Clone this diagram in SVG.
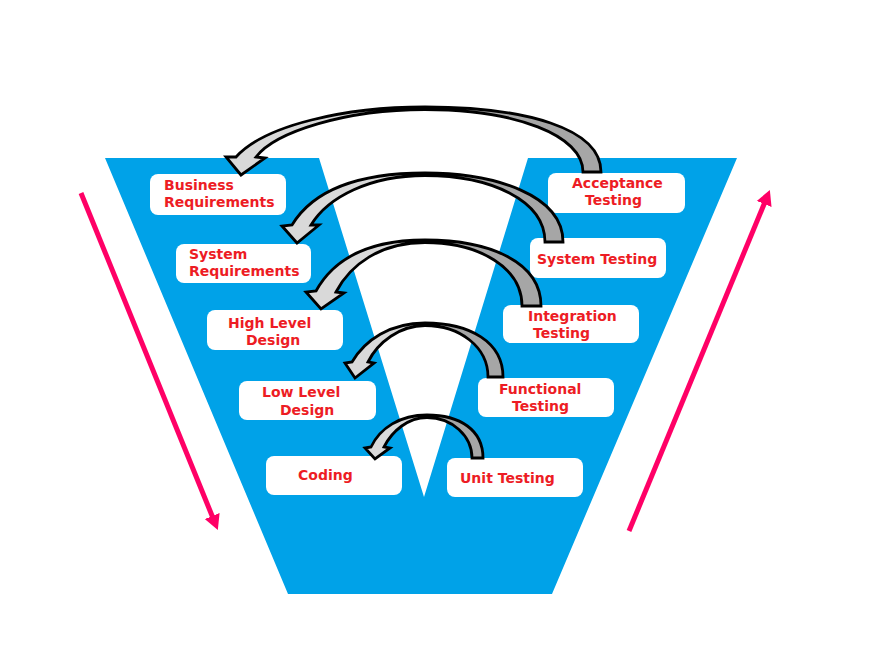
<svg xmlns="http://www.w3.org/2000/svg" width="891" height="655" viewBox="0 0 891 655">
<defs>
<style>
.box{fill:#ffffff;}
.lbl{font-family:"DejaVu Sans","Liberation Sans",sans-serif;font-weight:bold;font-size:14px;fill:#ED1C24;}
.carrow{fill:url(#grayfill);stroke:#000000;stroke-width:2.8;stroke-linejoin:miter;}
.pink{stroke:#FF0066;stroke-width:5;fill:none;marker-end:url(#pinkhead);}
</style>
<linearGradient id="grayfill" x1="0" y1="0" x2="1" y2="0">
<stop offset="0" stop-color="#D9D9D9"/>
<stop offset="0.5" stop-color="#D9D9D9"/>
<stop offset="0.5" stop-color="#A6A6A6"/>
<stop offset="1" stop-color="#A6A6A6"/>
</linearGradient>
<marker id="pinkhead" markerWidth="4" markerHeight="4" refX="1.5" refY="2" orient="auto" markerUnits="strokeWidth">
<path d="M0,0.4 L3,2 L0,3.6 Z" fill="#FF0066"/>
</marker>
</defs>
<rect width="891" height="655" fill="#ffffff"/>
<path id="vshape" d="M105,158 L319,158 L424,497 L528,158 L737,158 L552,594 L288,594 Z" fill="#00A2E8"/>

<g id="business-requirements">
<rect class="box" x="150" y="174" width="136" height="41" rx="8"/>
<text class="lbl" x="164" y="190">Business</text>
<text class="lbl" x="164" y="207">Requirements</text>
</g>
<g id="system-requirements">
<rect class="box" x="176" y="244" width="135" height="39" rx="8"/>
<text class="lbl" x="189" y="259">System</text>
<text class="lbl" x="189" y="276">Requirements</text>
</g>
<g id="high-level-design">
<rect class="box" x="207" y="310" width="136" height="40" rx="8"/>
<text class="lbl" x="228" y="328">High Level</text>
<text class="lbl" x="246" y="345">Design</text>
</g>
<g id="low-level-design">
<rect class="box" x="239" y="381" width="137" height="39" rx="8"/>
<text class="lbl" x="262" y="397">Low Level</text>
<text class="lbl" x="280" y="415">Design</text>
</g>
<g id="coding">
<rect class="box" x="266" y="456" width="136" height="39" rx="8"/>
<text class="lbl" x="298" y="480">Coding</text>
</g>
<g id="acceptance-testing">
<rect class="box" x="548" y="173" width="137" height="40" rx="8"/>
<text class="lbl" x="572" y="188">Acceptance</text>
<text class="lbl" x="585" y="205">Testing</text>
</g>
<g id="system-testing">
<rect class="box" x="530" y="238" width="136" height="40" rx="8"/>
<text class="lbl" x="537" y="264">System Testing</text>
</g>
<g id="integration-testing">
<rect class="box" x="503" y="305" width="136" height="38" rx="8"/>
<text class="lbl" x="528" y="321">Integration</text>
<text class="lbl" x="533" y="338">Testing</text>
</g>
<g id="functional-testing">
<rect class="box" x="478" y="378" width="136" height="39" rx="8"/>
<text class="lbl" x="499" y="394">Functional</text>
<text class="lbl" x="512" y="411">Testing</text>
</g>
<g id="unit-testing">
<rect class="box" x="447" y="458" width="136" height="39" rx="8"/>
<text class="lbl" x="460" y="483">Unit Testing</text>
</g>

<g id="connectors">
<path class="carrow" d="M601,172 C601,128 525,107 425,107 C345,107 265,125 236,157 L226,157 L241,175 L265,158 L256,157 C275,132 345,109.5 425,109.5 C515,109.5 583,135 583,172 Z"/>
<path class="carrow" d="M563,242 C563,195 495,173 425,173 C355,173 312,192 292,225 L282,226 L297,243 L319,225 L311,225 C328,197 370,175.5 425,175.5 C490,175.5 545,200 545,242 Z"/>
<path class="carrow" d="M541,306 C541,262 490,240 425,240 C365,240 332,262 316,291 L306,292 L321,309 L344,293 L336,292 C350,265 380,242.5 425,242.5 C480,242.5 522,268 522,306 Z"/>
<path class="carrow" d="M503,377 C503,342 470,323 425,323 C390,323 365,340 352,362 L345,363 L355,378 L374,363 L368,362 C378,342 400,325.5 425,325.5 C460,325.5 488,347 488,377 Z"/>
<path class="carrow" d="M483,458 C483,430 460,415 427,415 C400,415 380,428 371,447 L365,448 L375,459 L390,448 L384,447 C392,431 408,417.5 427,417.5 C452,417.5 472,436 472,458 Z"/>
<line class="pink" x1="81" y1="193" x2="215" y2="523"/>
<line class="pink" x1="629" y1="531" x2="767" y2="197"/>
</g>
</svg>
